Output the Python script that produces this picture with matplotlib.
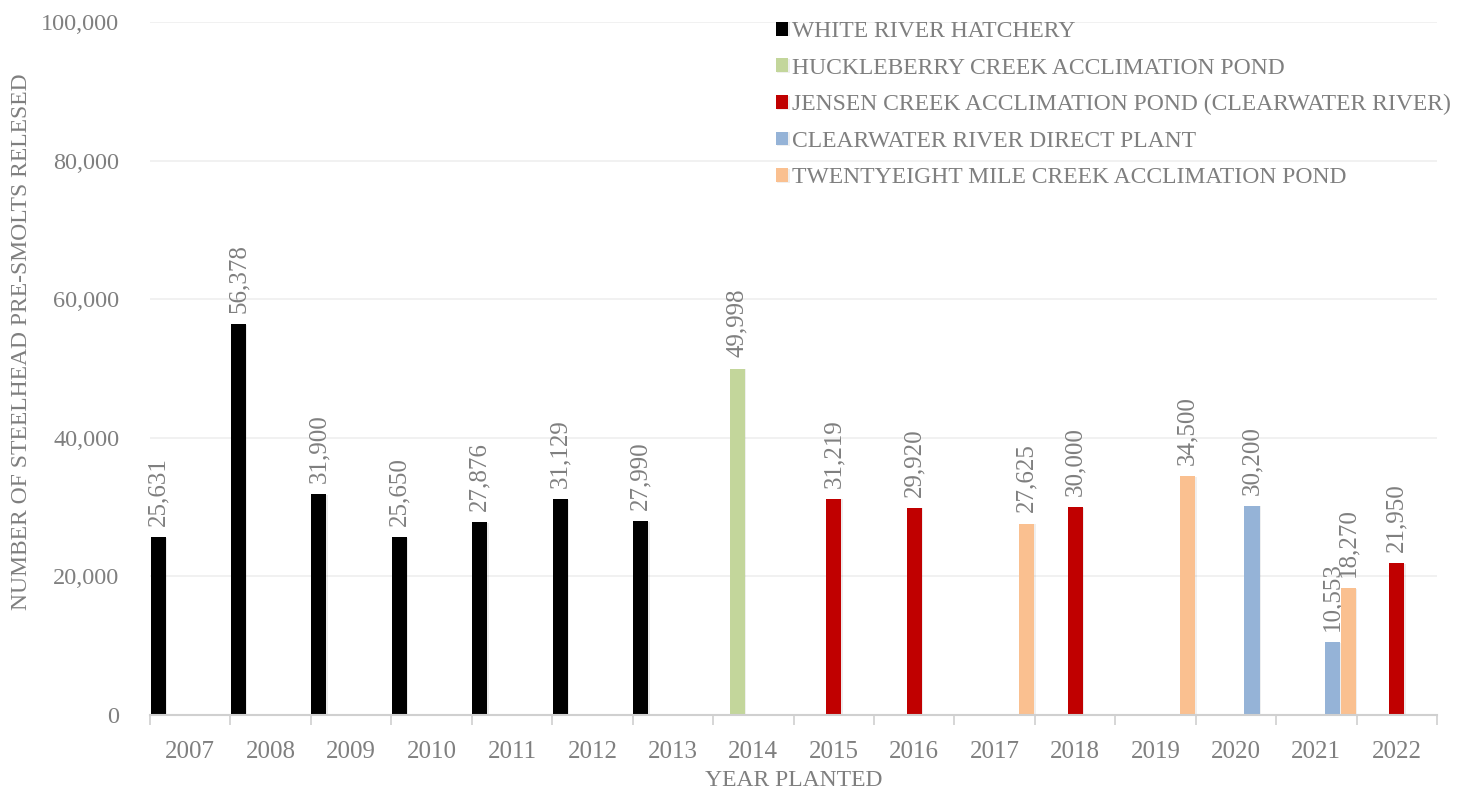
import matplotlib
matplotlib.use("Agg")
import matplotlib.pyplot as plt
import matplotlib.patheffects as pe
import numpy as np

years = ["2007", "2008", "2009", "2010", "2011", "2012", "2013", "2014",
         "2015", "2016", "2017", "2018", "2019", "2020", "2021", "2022"]

white_river = [25631, 56378, 31900, 25650, 27876, 31129, 27990, 0,
               0, 0, 0, 0, 0, 0, 0, 0]
huckleberry = [0, 0, 0, 0, 0, 0, 0, 49998,
               0, 0, 0, 0, 0, 0, 0, 0]
jensen = [0, 0, 0, 0, 0, 0, 0, 0,
          31219, 29920, 0, 30000, 0, 0, 0, 21950]
clearwater = [0, 0, 0, 0, 0, 0, 0, 0,
              0, 0, 0, 0, 0, 30200, 10553, 0]
twentyeight = [0, 0, 0, 0, 0, 0, 0, 0,
               0, 0, 27625, 0, 34500, 0, 18270, 0]

series_names = ["WHITE RIVER HATCHERY",
                "HUCKLEBERRY CREEK ACCLIMATION POND",
                "JENSEN CREEK ACCLIMATION POND (CLEARWATER RIVER)",
                "CLEARWATER RIVER DIRECT PLANT",
                "TWENTYEIGHT MILE CREEK ACCLIMATION POND"]
series_vals = [white_river, huckleberry, jensen, clearwater, twentyeight]
colors = ["#000000", "#c3d69b", "#c00000", "#95b3d7", "#fac090"]

grey = "#7f7f7f"
plt.rcParams['font.family'] = ['Liberation Serif', 'DejaVu Serif']

fig = plt.figure(figsize=(14.59, 7.93), dpi=100)
ax = fig.add_axes([150/1459, 78/793, 1287/1459, 693/793])

x = np.arange(len(years))
slot = 0.2
width = 0.187
shadow = [pe.SimplePatchShadow(offset=(1, -0.5), alpha=0.08), pe.Normal()]

for i, (name, vals, col) in enumerate(zip(series_names, series_vals, colors)):
    pos = x - 0.4 + i*slot
    bars = ax.bar(pos, vals, width=width, color=col, label=name, zorder=3)
    for b, v in zip(bars, vals):
        b.set_path_effects(shadow)
        if v > 0:
            ax.annotate(f"{v:,}", (b.get_x() + b.get_width()/2, v),
                        xytext=(0, 8), textcoords="offset points",
                        rotation=90, ha="center", va="bottom",
                        fontsize=18, color=grey)

ax.set_xlim(-0.5, len(years) - 0.5)
ax.set_ylim(0, 100000)
ax.set_yticks(np.arange(0, 100001, 20000))
ax.yaxis.set_major_formatter(matplotlib.ticker.FuncFormatter(lambda v, p: f"{int(v):,}"))
ax.set_xticks(x)
ax.set_xticklabels(years)
ax.set_xticks(np.arange(-0.5, len(years)), minor=True)
ax.tick_params(axis="x", which="major", length=0, pad=19, labelsize=18, labelcolor=grey)
ax.tick_params(axis="x", which="minor", length=7, width=1.2, color="#d0d0d0")
ax.tick_params(axis="y", length=0, pad=22, labelsize=17.5, labelcolor=grey)

ax.grid(axis="y", color="#efefef", linewidth=1.2, zorder=0)
for s in ["left", "right", "top"]:
    ax.spines[s].set_visible(False)
ax.spines["bottom"].set_color("#d0d0d0")
ax.spines["bottom"].set_linewidth(1.5)
ax.spines["bottom"].set_zorder(4)

ax.set_xlabel("YEAR PLANTED", fontsize=17, color=grey, labelpad=5)
ax.set_ylabel("NUMBER OF STEELHEAD PRE-SMOLTS RELESED", fontsize=17, color=grey)
ax.yaxis.set_label_coords(-0.092, 0.538)

leg = fig.legend(loc="upper left", bbox_to_anchor=(776/1459, 1 - 21/793),
                 frameon=False, fontsize=17, handlelength=0.52, handleheight=0.52,
                 handletextpad=0.15, labelspacing=0.66, borderaxespad=0, borderpad=0)
for t in leg.get_texts():
    t.set_color(grey)

fig.savefig("out.png", dpi=100)
